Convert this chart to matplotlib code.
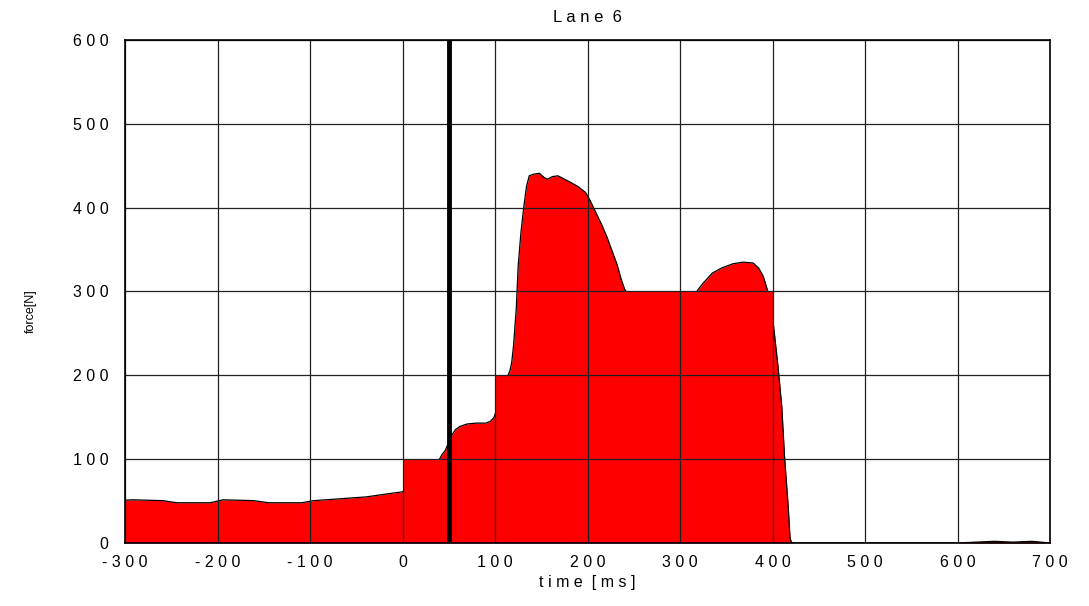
import matplotlib
matplotlib.use("Agg")
import matplotlib.pyplot as plt

# force curve (time in ms, force in N)
time_ms = [-300, -292, -259, -244, -208, -194, -161, -145, -109, -96, -64, -39, -17, 0,
           20, 40, 43, 46, 50, 53, 57, 62, 70, 80, 90, 95, 99, 105, 112, 116, 118,
           120, 123, 125, 128, 131, 134, 137, 142, 148, 153, 157, 162, 168, 175,
           182, 190, 198, 203, 210, 216, 221, 226, 232, 236, 240, 243, 270, 300,
           318, 325, 335, 345, 357, 368, 379, 385, 390, 395, 400, 406, 410, 413,
           417, 419, 421, 500, 600, 620, 640, 660, 680, 700]
force_n = [51, 51.5, 50.5, 48, 48, 51.5, 50.5, 48, 48, 50.5, 53, 55, 58.5, 61,
           80, 100, 106, 110, 120, 128, 135, 139, 142, 143, 143, 145, 150, 170, 195, 205, 215,
           235, 280, 330, 370, 400, 425, 438, 440, 441, 436, 434, 437, 438, 434,
           430, 425, 418, 408, 392, 378, 365, 350, 332, 316, 303, 298, 290, 292,
           300, 310, 322, 328, 333, 335, 334, 328, 318, 300, 270, 210, 163, 103,
           43, 5, 0, 0, 0, 1, 2, 1, 2, 0]

# filled blocks that the original renderer left under the curve
block_edges = [0, 43, 100, 115, 240, 400]
block_levels = [100, 0, 200, 0, 300, 0]

marker_t = 50
x_ticks = list(range(-300, 701, 100))
y_ticks = list(range(0, 601, 100))


def spaced(v):
    # the original labels are drawn with wide letter spacing
    return " ".join(str(v))


plt.rcParams["font.family"] = ["Liberation Sans", "DejaVu Sans"]

fig = plt.figure(figsize=(10.89, 6.06), dpi=100)
ax = fig.add_axes([0.1148, 0.104, 0.8494, 0.830])

# curve fill, then its outline, then the blocks that hide the outline
ax.fill_between(time_ms, 0, force_n, color="#ff0000", linewidth=0, zorder=1)
ax.plot(time_ms, force_n, color="black", linewidth=0.9, zorder=1.5)
ax.fill_between(block_edges, 0, block_levels, step="post",
                color="#ff0000", linewidth=0, zorder=2)
ax.axvline(marker_t, color="black", linewidth=3.5, zorder=5)

ax.set_xlim(-300, 700)
ax.set_ylim(0, 600)
ax.set_xticks(x_ticks)
ax.set_yticks(y_ticks)
ax.set_xticklabels([spaced(v) for v in x_ticks], fontsize=11.5)
ax.set_yticklabels([spaced(v) for v in y_ticks], fontsize=11.5)
ax.tick_params(length=0)
ax.tick_params(axis="x", pad=9)
ax.tick_params(axis="y", pad=12)
ax.set_axisbelow(False)
ax.grid(True, color="#202020", linewidth=0.9)
for sp in ax.spines.values():
    sp.set_color("black")
    sp.set_linewidth(1.2)
    sp.set_zorder(6)

ax.set_title(spaced("Lane") + "  6", fontsize=12, pad=13)
ax.set_xlabel(" ".join("time") + "  " + " ".join("[ms]"), fontsize=11.5, labelpad=3)
ax.set_ylabel("force[N]", fontsize=9)
ax.yaxis.set_label_coords(-0.095, 0.46)

fig.savefig("out.png", dpi=100)
